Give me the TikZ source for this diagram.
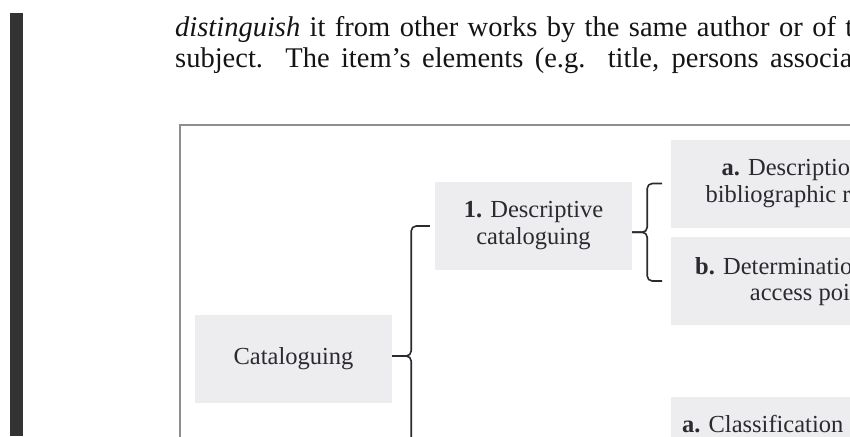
\documentclass[tikz,border=0pt]{standalone}
\usepackage{fontspec}
\setmainfont{Liberation Serif}
\usetikzlibrary{positioning,calc}
\definecolor{boxgray}{HTML}{EDEDEF}
\definecolor{framegray}{HTML}{8E8E8E}
\definecolor{bargray}{HTML}{333333}
\definecolor{inkgray}{HTML}{2A2A30}
\tikzset{
  catbox/.style={fill=boxgray, text=inkgray, minimum height=88pt, inner sep=0pt, align=center,
    font=\fontsize{24.5}{27}\selectfont},
  bodytext/.style={anchor=base west, inner sep=0pt, text=black!92, font=\fontsize{28.5}{30}\selectfont},
  brace/.style={draw=inkgray, line width=1.6pt, rounded corners=5pt}
}
\begin{document}
\begin{tikzpicture}[x=1pt,y=-1pt]
\useasboundingbox (0,0) rectangle (850,436);
\clip (0,0) rectangle (850,436);
\fill[white] (0,0) rectangle (850,436);
% edge of the page
\fill[bargray] (10,13) rectangle (23,436);
% running text
\node[bodytext] (line1) at (175,37) {\makebox[773pt][s]{\textit{distinguish} it from other works by the same author or of the same}};
\node[bodytext] (line2) at (175,67) {\makebox[712pt][s]{subject. The item's elements (e.g. title, persons associated}};
% figure frame
\draw[framegray, line width=1.5pt] (180,125) rectangle (900,520);
% boxes
\node[catbox, minimum width=197pt] (cat) at (293.5,359) {Cataloguing};
\node[catbox, minimum width=197pt] (desc) at (533.5,226) {\textbf{1.} Descriptive\\cataloguing};
\node[catbox, minimum width=268pt, anchor=west] (descA) at (671,183.5) {\textbf{a.} Description of\\bibliographic record};
\node[catbox, minimum width=268pt, anchor=west] (descB) at (671,281) {\textbf{b.} Determination of\hspace*{24pt}\\[-1pt]\hspace*{18pt}access points};
\node[catbox, minimum width=183pt, anchor=north west] (subjA) at (671,397) {\textbf{a.} Classification\\\strut};
% brace ends
\coordinate (catTip) at ([yshift=3pt]cat.east);
\coordinate (subjEnd) at (430,487);
\coordinate (descTip) at ($(desc.east |- descA.west)!0.5!(desc.east |- descB.west)$);
% braces
\draw[brace] ([xshift=-5pt]desc.west) -| ([xshift=19pt]catTip) -- (catTip);
\draw[brace] (catTip) -- ([xshift=19pt]catTip) |- (subjEnd);
\draw[brace] ([xshift=-9pt]descA.west) -| ([xshift=15pt]descTip) -- (descTip);
\draw[brace] (descTip) -- ([xshift=15pt]descTip) |- ([xshift=-9pt]descB.west);
\end{tikzpicture}
\end{document}
